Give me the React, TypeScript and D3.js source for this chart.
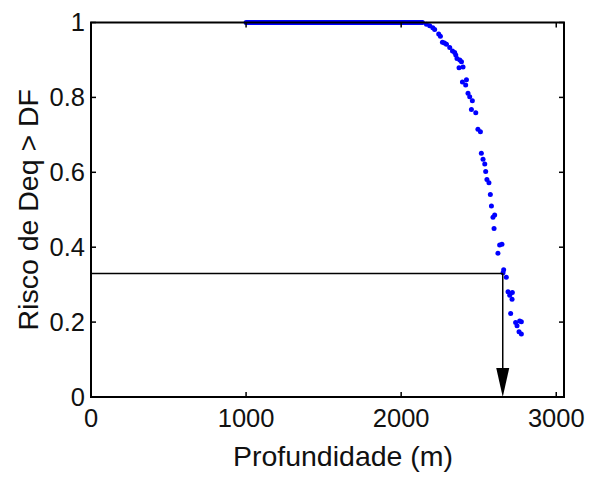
import React from "react";
import * as d3 from "d3";

// Data
const flatRange: [number, number] = [1000, 2130]; // depths where risk stays at 1 (dense dots)
const depths = [2137, 2163, 2184, 2204, 2216, 2242, 2253, 2266, 2279, 2292, 2313, 2331, 2345, 2352, 2360, 2378, 2389, 2373, 2399, 2395, 2421, 2416, 2431, 2442, 2459, 2453, 2481, 2495, 2511, 2517, 2528, 2539, 2545, 2553, 2566, 2575, 2582, 2603, 2592, 2599, 2635, 2650, 2624, 2661, 2657, 2678, 2689, 2717, 2700, 2715, 2706, 2738, 2764, 2775, 2747, 2760, 2775];
const risks = [1.0, 0.995, 0.991, 0.986, 0.981, 0.969, 0.963, 0.947, 0.945, 0.942, 0.933, 0.924, 0.92, 0.913, 0.904, 0.9, 0.895, 0.879, 0.881, 0.841, 0.847, 0.833, 0.811, 0.802, 0.791, 0.768, 0.759, 0.715, 0.708, 0.651, 0.635, 0.622, 0.602, 0.581, 0.572, 0.541, 0.51, 0.486, 0.48, 0.45, 0.406, 0.408, 0.384, 0.34, 0.332, 0.32, 0.281, 0.279, 0.272, 0.261, 0.223, 0.199, 0.203, 0.201, 0.19, 0.174, 0.168];
const xTicks = [0, 1000, 2000, 3000];
const yTicks = [0, 0.2, 0.4, 0.6, 0.8, 1];
const markDepth = 2655;
const markRisk = 0.33;
const xLabel = "Profundidade (m)";
const yLabel = "Risco de Deq > DF";

export default function App() {
  const W = 601, H = 477;
  const L = 91, R = 564, T = 22.5, B = 397;
  const x = d3.scaleLinear().domain([0, 3050]).range([L, R]);
  const y = d3.scaleLinear().domain([0, 1]).range([B, T]);
  const font = "Arial, 'Liberation Sans', sans-serif";
  const fs = 25.5;
  const lfs = 28.5;
  const tl = 5;
  const ax = x(markDepth), ay = y(markRisk);
  const arrowH = 29, arrowW = 6.5;
  return (
    <svg width={W} height={H} style={{ position: "absolute", left: 0, top: 0, background: "#fff" }}>
      <rect x={0} y={0} width={W} height={H} fill="#fff" />
      {/* data */}
      <line x1={x(flatRange[0])} x2={x(flatRange[1])} y1={y(1)} y2={y(1)} stroke="#0000ff" strokeWidth={5} strokeLinecap="round" />
      {depths.map((d, i) => (
        <circle key={i} cx={x(d)} cy={y(risks[i])} r={2.5} fill="#0000ff" />
      ))}
      {/* axes box */}
      <path d={`M${L},${T}H${R}V${B}H${L}Z`} fill="none" stroke="#000" strokeWidth={2} />
      {xTicks.map((t) => (
        <g key={"x" + t}>
          <line x1={x(t)} x2={x(t)} y1={B} y2={B - tl} stroke="#000" strokeWidth={1.5} />
          <line x1={x(t)} x2={x(t)} y1={T} y2={T + tl} stroke="#000" strokeWidth={1.5} />
          <text x={x(t)} y={B + 30} textAnchor="middle" fontFamily={font} fontSize={fs} fill="#111">{t}</text>
        </g>
      ))}
      {yTicks.map((t) => (
        <g key={"y" + t}>
          <line x1={L} x2={L + tl} y1={y(t)} y2={y(t)} stroke="#000" strokeWidth={1.5} />
          <line x1={R} x2={R - tl} y1={y(t)} y2={y(t)} stroke="#000" strokeWidth={1.5} />
          <text x={85} y={y(t)} dy="0.35em" textAnchor="end" fontFamily={font} fontSize={fs} fill="#111">{t}</text>
        </g>
      ))}
      {/* marker lines */}
      <line x1={L} x2={ax} y1={ay} y2={ay} stroke="#000" strokeWidth={1.5} />
      <line x1={ax} x2={ax} y1={ay} y2={B - arrowH + 2} stroke="#000" strokeWidth={1.5} />
      <path d={`M${ax - arrowW},${B - arrowH}L${ax + arrowW},${B - arrowH}L${ax},${B}Z`} fill="#000" />
      <text x={343} y={466} textAnchor="middle" fontFamily={font} fontSize={lfs} fill="#111">{xLabel}</text>
      <text transform={`translate(${38},${(T + B) / 2}) rotate(-90)`} textAnchor="middle" fontFamily={font} fontSize={lfs} fill="#111">{yLabel}</text>
    </svg>
  );
}
